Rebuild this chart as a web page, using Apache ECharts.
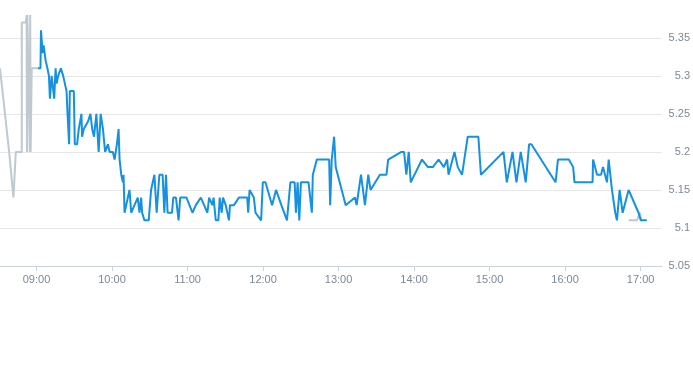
<!DOCTYPE html>
<html><head><meta charset="utf-8">
<script src="https://cdn.jsdelivr.net/npm/echarts@6/dist/echarts.min.js"></script>
<style>html,body{margin:0;padding:0;background:#fff}#c{width:693px;height:365px}</style>
</head><body><div id="c"></div>
<script>
// Pre-market (grey)
const preTimes = ["08:31:00","08:38:16","08:39:50","08:41:40","08:43:34","08:48:18","08:48:18","08:51:28","08:52:10","08:52:25","08:52:45","08:54:20","08:54:40","08:55:00","08:55:20","08:56:08","08:56:12","09:01:11"];
const prePrices = [5.31,5.20,5.20,5.14,5.20,5.20,5.37,5.37,5.38,5.20,5.38,5.38,5.20,5.38,5.20,5.20,5.31,5.31];
// Regular session (blue)
const mainTimes = ["09:01:11","09:03:10","09:03:34","09:04:54","09:05:41","09:07:16","09:08:41","09:09:53","09:10:40","09:12:01","09:13:02","09:14:04","09:15:10","09:15:58","09:17:14","09:19:22","09:21:11","09:23:52","09:24:40","09:25:55","09:26:29","09:29:38","09:30:26","09:32:15","09:33:35","09:35:43","09:36:12","09:37:32","09:40:56","09:42:50","09:44:16","09:45:41","09:47:35","09:49:24","09:50:59","09:52:48","09:54:32","09:56:45","09:58:05","10:00:42","10:02:03","10:03:52","10:05:13","10:06:00","10:07:20","10:08:37","10:09:10","10:09:57","10:11:17","10:13:54","10:15:14","10:17:51","10:20:28","10:21:49","10:23:09","10:23:56","10:25:46","10:29:10","10:31:03","10:33:40","10:35:29","10:37:37","10:40:13","10:41:34","10:42:55","10:44:10","10:47:39","10:48:41","10:50:49","10:52:52","10:54:13","10:59:11","11:03:56","11:06:37","11:10:34","11:13:11","11:15:47","11:17:08","11:19:44","11:20:41","11:22:26","11:24:29","11:25:35","11:27:10","11:28:12","11:30:20","11:31:45","11:32:56","11:33:44","11:36:53","11:40:51","11:47:25","11:48:12","11:49:18","11:52:42","11:54:02","11:58:28","11:59:49","12:01:57","12:07:10","12:10:20","12:14:35","12:19:01","12:21:43","12:25:07","12:26:08","12:27:29","12:28:49","12:30:05","12:36:10","12:38:47","12:39:34","12:42:44","12:52:32","12:53:20","12:54:35","12:56:29","12:57:45","13:05:40","13:13:05","13:14:21","13:17:50","13:20:59","13:23:36","13:25:25","13:32:51","13:38:04","13:39:25","13:49:55","13:52:04","13:53:52","13:55:46","13:57:21","14:06:17","14:11:01","14:14:58","14:19:29","14:23:40","14:26:16","14:27:23","14:32:07","14:34:44","14:38:08","14:42:38","14:51:05","14:53:08","15:11:05","15:13:42","15:18:13","15:21:22","15:24:46","15:28:43","15:31:24","15:33:13","15:52:26","15:54:20","16:03:01","16:06:25","16:07:27","16:21:50","16:22:14","16:25:23","16:28:33","16:30:08","16:33:17","16:34:38","16:35:40","16:37:15","16:39:52","16:41:12","16:43:20","16:45:43","16:47:17","16:50:27","16:58:21","17:00:10","17:04:55"];
const mainPrices = [5.31,5.31,5.36,5.33,5.34,5.32,5.31,5.30,5.27,5.30,5.30,5.27,5.31,5.29,5.30,5.31,5.30,5.28,5.25,5.21,5.28,5.28,5.21,5.21,5.23,5.25,5.22,5.23,5.24,5.25,5.23,5.22,5.25,5.20,5.25,5.23,5.20,5.21,5.20,5.20,5.19,5.21,5.23,5.19,5.17,5.16,5.17,5.12,5.12,5.15,5.12,5.13,5.14,5.12,5.14,5.12,5.11,5.11,5.15,5.17,5.12,5.17,5.17,5.12,5.17,5.12,5.12,5.14,5.14,5.11,5.14,5.14,5.12,5.13,5.14,5.13,5.12,5.14,5.13,5.14,5.11,5.11,5.14,5.12,5.14,5.13,5.13,5.11,5.13,5.13,5.14,5.14,5.12,5.15,5.14,5.12,5.11,5.16,5.16,5.13,5.15,5.13,5.11,5.16,5.16,5.12,5.16,5.11,5.16,5.16,5.12,5.17,5.19,5.19,5.13,5.19,5.22,5.18,5.13,5.14,5.13,5.17,5.13,5.17,5.15,5.17,5.17,5.19,5.20,5.20,5.17,5.20,5.16,5.19,5.18,5.18,5.19,5.18,5.19,5.17,5.20,5.18,5.17,5.22,5.22,5.17,5.20,5.16,5.20,5.16,5.20,5.16,5.21,5.21,5.16,5.19,5.19,5.18,5.16,5.16,5.19,5.17,5.17,5.18,5.16,5.19,5.19,5.15,5.12,5.11,5.15,5.12,5.13,5.15,5.12,5.11,5.11];
// After-hours (grey)
const postTimes = ["16:50:27","16:56:59","16:59:36","17:00:24"];
const postPrices = [5.11,5.11,5.12,5.11];
// Axis ticks
const xTickLabels = ["09:00","10:00","11:00","12:00","13:00","14:00","15:00","16:00","17:00"];
const yTickValues = [5.05,5.10,5.15,5.20,5.25,5.30,5.35];

function toMin(s){const p=s.split(':').map(Number);return p[0]*60+p[1]+(p[2]||0)/60;}
function pair(ts,ps){return ts.map((t,i)=>[toMin(t),ps[i]]);}
function fmt(m){const h=Math.floor(m/60),mm=Math.round(m-h*60);return (h<10?'0':'')+h+':'+(mm<10?'0':'')+mm;}
const xTickVals = xTickLabels.map(toMin);
const font = "'Liberation Sans', Arial, sans-serif";

const chart = echarts.init(document.getElementById('c'), null, {renderer:'canvas'});
chart.setOption({
  animation:false,
  backgroundColor:'#ffffff',
  grid:{left:0,right:28,top:15,bottom:99,containLabel:false},
  xAxis:{
    type:'value', min:toMin("08:31:00"), max:toMin("17:17:00"),
    axisLine:{show:true,lineStyle:{color:'#ccd3da',width:1}},
    axisTick:{show:true,length:5,lineStyle:{color:'#ccd3da'},customValues:xTickVals},
    axisLabel:{customValues:xTickVals,formatter:v=>fmt(v),color:'#7d8893',fontSize:11,fontFamily:font,margin:8},
    splitLine:{show:false}
  },
  yAxis:{
    type:'value', position:'right', min:5.05, max:5.38, interval:0.05,
    axisLine:{show:false}, axisTick:{show:false,customValues:yTickValues},
    axisLabel:{customValues:yTickValues,formatter:v=>String(+(+v).toFixed(2)),color:'#7d8893',fontSize:11,fontFamily:font,align:'right',margin:28},
    splitLine:{show:true,lineStyle:{color:'#e6e6e6',width:1}}
  },
  series:[
    {type:'line',data:pair(preTimes,prePrices),showSymbol:false,symbol:'none',lineStyle:{color:'#bfc9d0',width:2},z:2},
    {type:'line',data:pair(postTimes,postPrices),showSymbol:false,symbol:'none',lineStyle:{color:'#bfc9d0',width:2},z:2},
    {type:'line',data:pair(mainTimes,mainPrices),showSymbol:false,symbol:'none',lineStyle:{color:'#1591e0',width:2},z:3}
  ]
});
</script>
</body></html>
